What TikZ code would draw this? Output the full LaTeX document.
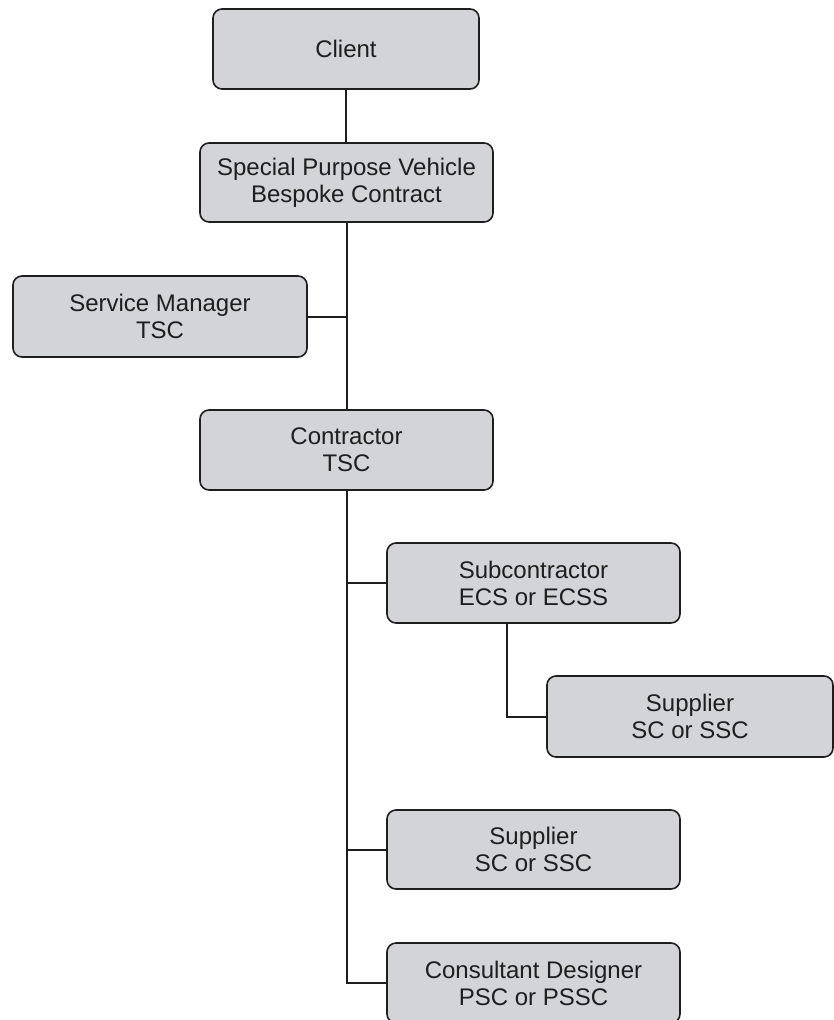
\documentclass[tikz,border=0pt]{standalone}
\usepackage{fontspec}
\setmainfont{Liberation Sans}
\definecolor{boxfill}{RGB}{211,212,215}
\definecolor{ink}{RGB}{30,30,30}
\begin{document}
\begin{tikzpicture}[x=1pt,y=-1pt,
  orgbox/.style={draw=ink, line width=1.6pt, fill=boxfill, rounded corners=9pt,
    align=center, inner sep=0pt, text=ink,
    font=\fontsize{24}{27}\selectfont},
  link/.style={draw=ink, line width=2pt}]
\useasboundingbox (0,0) rectangle (834,1020);
\node[orgbox, minimum width=266pt, minimum height=80pt] (client) at (346,49) {Client};
\node[orgbox, minimum width=293pt, minimum height=79pt] (spv) at (346.5,182.5) {Special Purpose Vehicle\\Bespoke Contract};
\node[orgbox, minimum width=294pt, minimum height=81pt] (sm) at (160,316.5) {Service Manager\\TSC};
\node[orgbox, minimum width=293pt, minimum height=80pt] (con) at (346.5,450) {Contractor\\TSC};
\node[orgbox, minimum width=293pt, minimum height=80pt] (sub) at (533.5,583) {Subcontractor\\ECS or ECSS};
\node[orgbox, minimum width=286pt, minimum height=81pt] (sup1) at (690,716.5) {Supplier\\SC or SSC};
\node[orgbox, minimum width=293pt, minimum height=79pt] (sup2) at (533.5,849.5) {Supplier\\SC or SSC};
\node[orgbox, minimum width=293pt, minimum height=80pt] (cons) at (533.5,983) {Consultant Designer\\PSC or PSSC};
\coordinate (subdrop) at ([xshift=-26.5pt]sub.south);
\draw[link] (client.south) -- (client.south |- spv.north);
\draw[link] (spv.south) -- (spv.south |- con.north);
\draw[link] (sm.east) -- (sm.east -| spv.south);
\draw[link] (con.south) -- (con.south |- cons.west) -- (cons.west);
\draw[link] (con.south |- sub.west) -- (sub.west);
\draw[link] (con.south |- sup2.west) -- (sup2.west);
\draw[link] (subdrop) |- (sup1.west);
\end{tikzpicture}
\end{document}
